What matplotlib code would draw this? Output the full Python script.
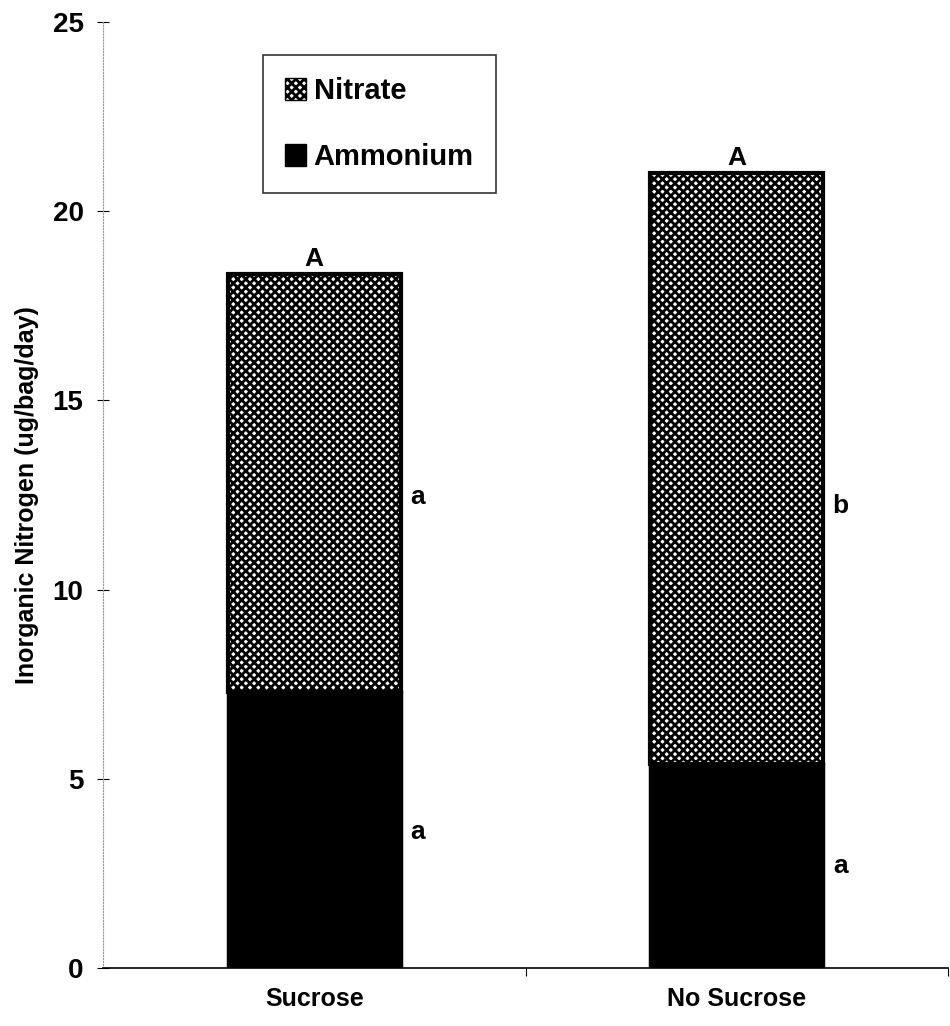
import matplotlib.pyplot as plt
from matplotlib.patches import Patch

# ----------------------------
# Data
# ----------------------------
categories = ["Sucrose", "No Sucrose"]
ammonium = [7.3, 5.4]
nitrate = [11.05, 15.6]
total_letters = ["A", "A"]
nitrate_letters = ["a", "b"]
ammonium_letters = ["a", "a"]
nitrate_letter_y = [12.45, 12.2]
ammonium_letter_y = [3.6, 2.7]

plt.rcParams['font.family'] = ['Liberation Sans', 'DejaVu Sans']
plt.rcParams['font.weight'] = 'bold'
plt.rcParams['hatch.linewidth'] = 2.0

fig = plt.figure(figsize=(9.5, 10.26), dpi=100)
ax = fig.add_axes([0.1084, 0.0565, 0.8896, 0.9221])

x = list(range(len(categories)))
width = 0.41

ax.bar(x, ammonium, width, color='black', edgecolor='black', linewidth=2.5, zorder=2)
ax.bar(x, nitrate, width, bottom=ammonium, facecolor='white', edgecolor='black',
       hatch='xxxx', linewidth=0, zorder=2)
ax.bar(x, nitrate, width, bottom=ammonium, fill=False, edgecolor='black', linewidth=3, zorder=3)

# significance letters
for i in x:
    top = ammonium[i] + nitrate[i]
    ax.text(i, top + 0.08, total_letters[i], ha='center', va='bottom', fontsize=19, fontweight='bold')
    ax.text(i + width / 2 + 0.04, nitrate_letter_y[i], nitrate_letters[i], ha='center', va='center',
            fontsize=19, fontweight='bold')
    ax.text(i + width / 2 + 0.04, ammonium_letter_y[i], ammonium_letters[i], ha='center', va='center',
            fontsize=19, fontweight='bold')

ax.set_xlim(-0.5, 1.5)
ax.set_ylim(0, 25)
ax.set_yticks([0, 5, 10, 15, 20, 25])
ax.set_xticks([0.5, 1.5])
ax.set_xticklabels([])
ax.set_xticks(x, minor=True)
ax.set_xticklabels(categories, minor=True, fontsize=18, fontweight='bold')
ax.tick_params(axis='x', which='minor', length=0, pad=14)
ax.tick_params(axis='x', which='major', length=6, direction='out')
ax.tick_params(axis='y', length=8, direction='inout', labelsize=20, pad=10)

ax.spines['top'].set_visible(False)
ax.spines['right'].set_visible(False)
ax.spines['left'].set_linestyle(':')
ax.spines['left'].set_color('#999999')
ax.spines['left'].set_linewidth(0.8)
ax.spines['bottom'].set_linewidth(1.2)

ax.set_ylabel("Inorganic Nitrogen (ug/bag/day)", fontsize=18, fontweight='bold', labelpad=10)

handles = [Patch(facecolor='white', edgecolor='black', hatch='xxxx', label='Nitrate'),
           Patch(facecolor='black', edgecolor='black', label='Ammonium')]
leg = ax.legend(handles=handles, loc='upper left', bbox_to_anchor=(0.189, 0.965),
                fontsize=21, frameon=True, fancybox=False, handlelength=0.75,
                handleheight=0.8, handletextpad=0.25, labelspacing=1.3, borderpad=0.75,
                borderaxespad=0)
leg.get_frame().set_edgecolor('black')
leg.get_frame().set_linewidth(1.2)
for t in leg.get_texts():
    t.set_fontweight('bold')

fig.savefig("out.png", dpi=100)
